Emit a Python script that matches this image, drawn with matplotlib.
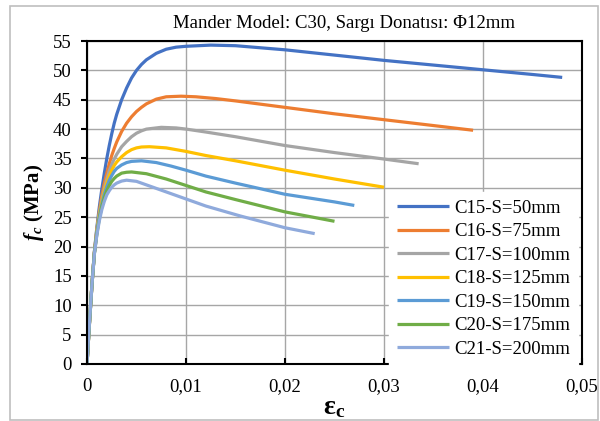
import matplotlib
matplotlib.use("Agg")
import matplotlib.pyplot as plt
from matplotlib.patches import Rectangle

plt.rcParams['font.family'] = ['Liberation Serif', 'DejaVu Serif']
plt.rcParams['mathtext.fontset'] = 'custom'
plt.rcParams['mathtext.rm'] = 'Liberation Serif'
plt.rcParams['mathtext.it'] = 'Liberation Serif:italic'
plt.rcParams['mathtext.bf'] = 'Liberation Serif:bold'
plt.rcParams['mathtext.bfit'] = 'Liberation Serif:italic:bold'

# values (strain, stress MPa)
labels = ['C15-S=50mm', 'C16-S=75mm', 'C17-S=100mm', 'C18-S=125mm',
          'C19-S=150mm', 'C20-S=175mm', 'C21-S=200mm']
colors = ['#4472C4', '#ED7D31', '#A5A5A5', '#FFC000', '#5B9BD5', '#70AD47', '#8FAADC']

# shared strain points on the rising branch
eps_rise = [0, 0.00025, 0.0005, 0.00075, 0.001, 0.00125, 0.0015, 0.00175, 0.002,
            0.00225, 0.0025, 0.00275, 0.003, 0.0035, 0.004]

eps_c15 = eps_rise + [0.0045, 0.005, 0.0055, 0.006, 0.007, 0.008, 0.009, 0.01, 0.0125,
                      0.015, 0.02, 0.025, 0.03, 0.035, 0.04, 0.045, 0.048]
fc_c15 = [0, 7, 13.5, 19.2, 23.3, 26.8, 29.8, 32.5, 35.0, 37.2, 39.2, 41.0, 42.5, 45.0, 47.0,
          48.7, 50.0, 51.0, 51.8, 52.9, 53.6, 53.95, 54.1, 54.3,
          54.2, 53.5, 52.6, 51.7, 50.9, 50.1, 49.3, 48.8]

eps_c16 = eps_rise + [0.0045, 0.005, 0.0055, 0.006, 0.007, 0.008, 0.0095, 0.011, 0.013,
                      0.015, 0.02, 0.025, 0.03, 0.035, 0.039]
fc_c16 = [0, 7, 13.5, 19.1, 23.0, 26.1, 28.7, 30.8, 32.5, 34.1, 35.5, 36.7, 37.8, 39.6, 41.0,
          42.1, 43.0, 43.7, 44.3, 45.1, 45.5, 45.6, 45.5, 45.2,
          44.8, 43.7, 42.6, 41.6, 40.6, 39.8]

eps_c17 = eps_rise + [0.0045, 0.005, 0.0055, 0.006, 0.0075, 0.009, 0.01, 0.012, 0.015,
                      0.02, 0.025, 0.03, 0.0335]
fc_c17 = [0, 7, 13.5, 19.0, 22.8, 25.7, 28.0, 29.9, 31.5, 32.9, 34.0, 34.9, 35.7, 37.0, 37.9,
          38.7, 39.3, 39.7, 40.0, 40.3, 40.2, 40.0, 39.5, 38.7,
          37.2, 36.0, 34.9, 34.1]

eps_c18 = eps_rise + [0.0045, 0.005, 0.0055, 0.0063, 0.008, 0.01, 0.012, 0.015, 0.02,
                      0.025, 0.03]
fc_c18 = [0, 7, 13.5, 19.0, 22.6, 25.4, 27.6, 29.4, 30.8, 32.0, 33.0, 33.8, 34.4, 35.3, 36.0,
          36.5, 36.8, 36.95, 37.0, 36.8, 36.2, 35.5, 34.6, 33.0,
          31.5, 30.1]

eps_c19 = eps_rise + [0.0045, 0.0055, 0.007, 0.0085, 0.01, 0.012, 0.015, 0.02, 0.025, 0.027]
fc_c19 = [0, 7, 13.5, 18.9, 22.4, 25.1, 27.2, 28.9, 30.2, 31.3, 32.1, 32.8, 33.3, 33.9, 34.3,
          34.5, 34.6, 34.3, 33.7, 33.0, 32.0, 30.8, 28.9, 27.6, 27.0]

eps_c20 = eps_rise + [0.0045, 0.006, 0.008, 0.01, 0.012, 0.015, 0.02, 0.025]
fc_c20 = [0, 7, 13.5, 18.9, 22.2, 24.8, 26.8, 28.3, 29.5, 30.4, 31.1, 31.6, 32.0, 32.5, 32.65,
          32.7, 32.4, 31.5, 30.4, 29.3, 28.0, 25.9, 24.3]

eps_c21 = eps_rise + [0.005, 0.0065, 0.008, 0.01, 0.012, 0.0155, 0.02, 0.023]
fc_c21 = [0, 7, 13.5, 18.8, 22.0, 24.4, 26.3, 27.7, 28.8, 29.5, 30.1, 30.5, 30.8, 31.15, 31.3,
          31.1, 30.2, 29.3, 28.1, 26.9, 25.2, 23.2, 22.2]

x_ticks = [0, 0.01, 0.02, 0.03, 0.04, 0.05]
x_tick_labels = ['0', '0,01', '0,02', '0,03', '0,04', '0,05']
y_ticks = list(range(0, 60, 5))

series = [(eps_c15, fc_c15), (eps_c16, fc_c16), (eps_c17, fc_c17), (eps_c18, fc_c18),
          (eps_c19, fc_c19), (eps_c20, fc_c20), (eps_c21, fc_c21)]

fig = plt.figure(figsize=(6, 4.21), dpi=100)
ax = fig.add_axes([87 / 600, 1 - 364 / 421, (582 - 87) / 600, (364 - 41) / 421])

for (x, y), lab, col in zip(series, labels, colors):
    ax.plot(x, y, color=col, lw=2.3, label=lab, solid_capstyle='butt', solid_joinstyle='round')

ax.set_xlim(0, 0.05)
ax.set_ylim(0, 55)
ax.set_xticks(x_ticks)
ax.set_xticklabels(x_tick_labels)
ax.set_yticks(y_ticks)
ax.grid(True, color='#a6a6a6', lw=1.0)
ax.set_axisbelow(True)
for s in ax.spines.values():
    s.set_linewidth(1.5)
    s.set_color('black')
ax.tick_params(axis='y', direction='out', length=4, width=1.5, labelsize=13.5, pad=7)
ax.tick_params(axis='x', direction='in', length=4, width=1.5, labelsize=13.5, pad=10)

ax.set_ylabel(r'$\mathbfit{f}_\mathbfit{c}$ (MPa)', fontsize=15, fontweight='bold', labelpad=5)
ax.set_xlabel(r'$\mathbf{ε}_\mathbf{c}$', fontsize=20, fontweight='bold', labelpad=0)

fig.text(515 / 600, 1 - 23 / 421, 'Mander Model: C30, Sargı Donatısı: Φ12mm',
         ha='right', va='center', fontsize=13.5)

leg = ax.legend(loc='upper left', bbox_to_anchor=(389 / 600, 1 - 192 / 421),
                bbox_transform=fig.transFigure, borderaxespad=0, fontsize=13.5,
                frameon=True, fancybox=False, edgecolor='white', framealpha=1,
                handlelength=2.8, handletextpad=0.3, labelspacing=0.34, borderpad=0.4)

fig.patches.append(Rectangle((10 / 600, 1 / 421), 588 / 600, 414 / 421,
                             transform=fig.transFigure, fill=False,
                             edgecolor='#bfbfbf', lw=1.2))

fig.savefig('out.png', dpi=100)
